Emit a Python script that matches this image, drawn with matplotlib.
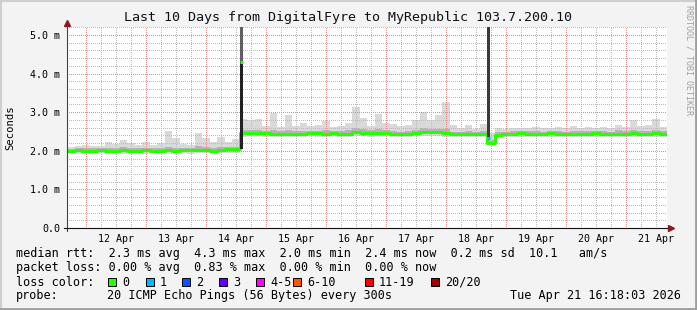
import numpy as np
import matplotlib
matplotlib.use('Agg')
import matplotlib.pyplot as plt
from matplotlib.patches import Rectangle
from matplotlib.lines import Line2D

plt.rcParams['font.family'] = 'DejaVu Sans Mono'

W, H = 697, 310

# time axis: days since 11 Apr 00:00, 3 hour buckets from 11 Apr 16:18
t_start = 16.3 / 24
step = 0.125

# median rtt per bucket (ms)
median = [2.00, 2.01, 2.00, 2.00, 2.01, 2.00, 2.00, 2.01, 2.00, 2.00,
          2.01, 2.00, 2.00, 2.01, 2.00, 2.02, 2.02, 2.03, 2.01, 2.00,
          2.01, 2.04, 2.04,
          2.45, 2.46, 2.47, 2.45, 2.44, 2.44, 2.43, 2.44, 2.44,
          2.45, 2.45, 2.44, 2.45, 2.44, 2.44,
          2.50, 2.47, 2.46, 2.46, 2.46,
          2.44, 2.43, 2.44, 2.46, 2.49,
          2.48, 2.48, 2.46, 2.43, 2.43, 2.43, 2.43, 2.43,
          2.21, 2.42,
          2.44, 2.44, 2.45, 2.44, 2.43, 2.44, 2.45, 2.44, 2.44, 2.43,
          2.44, 2.44, 2.45, 2.44, 2.43, 2.44, 2.44, 2.45, 2.44, 2.44,
          2.45, 2.44]

# smoke: min / max of the pings per bucket
smoke_lo = [1.94, 1.94, 1.93, 1.94, 1.94, 1.93, 1.94, 1.92, 1.94, 1.94,
            1.93, 1.94, 1.94, 1.93, 1.94, 1.94, 1.93, 1.94, 1.94, 1.93,
            1.94, 1.95, 1.95,
            2.37, 2.38, 2.38, 2.37, 2.37, 2.37, 2.36, 2.37, 2.37, 2.38,
            2.37, 2.37, 2.38, 2.37, 2.37, 2.38, 2.38, 2.37, 2.38, 2.38,
            2.37, 2.36, 2.37, 2.38, 2.39, 2.39, 2.38, 2.37, 2.36, 2.36,
            2.36, 2.36, 2.36,
            2.14, 2.35,
            2.36, 2.37, 2.37, 2.36, 2.36, 2.37, 2.37, 2.36, 2.37, 2.36,
            2.36, 2.37, 2.37, 2.36, 2.36, 2.37, 2.36, 2.37, 2.37, 2.36,
            2.37, 2.36]
smoke_hi = [2.10, 2.12, 2.15, 2.13, 2.12, 2.22, 2.18, 2.28, 2.19, 2.15,
            2.24, 2.16, 2.19, 2.51, 2.32, 2.17, 2.15, 2.45, 2.33, 2.22,
            2.37, 2.22, 2.30,
            2.82, 2.80, 2.82, 2.65, 2.98, 2.62, 2.92, 2.65, 2.71, 2.63,
            2.66, 2.78, 2.62, 2.65, 2.72, 3.14, 2.84, 2.65, 2.95, 2.72,
            2.70, 2.64, 2.66, 2.80, 3.00, 2.80, 2.93, 3.27, 2.67, 2.60,
            2.67, 2.56, 2.69,
            2.46, 2.58,
            2.56, 2.58, 2.60, 2.58, 2.62, 2.58, 2.60, 2.62, 2.58, 2.64,
            2.60, 2.62, 2.58, 2.62, 2.60, 2.67, 2.62, 2.80, 2.64, 2.68,
            2.82, 2.62]

# denser part of the smoke around the median
band_lo = [1.97, 1.97, 1.96, 1.97, 1.97, 1.96, 1.97, 1.97, 1.97, 1.96,
           1.97, 1.97, 1.97, 1.96, 1.97, 1.98, 1.98, 1.99, 1.97, 1.96,
           1.97, 2.00, 2.00,
           2.41, 2.42, 2.43, 2.41, 2.40, 2.40, 2.39, 2.40, 2.40, 2.41,
           2.41, 2.40, 2.41, 2.40, 2.40, 2.46, 2.43, 2.42, 2.42, 2.42,
           2.40, 2.39, 2.40, 2.42, 2.45, 2.44, 2.44, 2.42, 2.39, 2.39,
           2.39, 2.39, 2.39,
           2.17, 2.38,
           2.40, 2.40, 2.41, 2.40, 2.39, 2.40, 2.41, 2.40, 2.40, 2.39,
           2.40, 2.40, 2.41, 2.40, 2.39, 2.40, 2.40, 2.41, 2.40, 2.40,
           2.41, 2.40]
band_hi = [2.05, 2.06, 2.07, 2.06, 2.06, 2.08, 2.07, 2.09, 2.07, 2.06,
           2.08, 2.06, 2.07, 2.10, 2.08, 2.07, 2.07, 2.12, 2.09, 2.07,
           2.10, 2.10, 2.11,
           2.54, 2.54, 2.55, 2.52, 2.54, 2.51, 2.53, 2.51, 2.52, 2.52,
           2.52, 2.53, 2.51, 2.52, 2.53, 2.60, 2.56, 2.53, 2.56, 2.54,
           2.52, 2.50, 2.51, 2.55, 2.58, 2.56, 2.57, 2.56, 2.50, 2.50,
           2.51, 2.49, 2.51,
           2.28, 2.49,
           2.50, 2.51, 2.52, 2.51, 2.51, 2.50, 2.52, 2.52, 2.50, 2.52,
           2.51, 2.51, 2.52, 2.51, 2.50, 2.53, 2.51, 2.55, 2.52, 2.52,
           2.55, 2.51]

# the two short outages
spike_t = [3.592, 7.712]
spike_lo = [2.05, 2.36]
spike_hi = [6.0, 6.0]
spike_med = [4.3, 2.33]
spike_med_color = ['#26ff00', '#00b8ff']
spike_top_color = ['#606060', '#3a3a3a']

day_labels = ['12 Apr', '13 Apr', '14 Apr', '15 Apr', '16 Apr',
              '17 Apr', '18 Apr', '19 Apr', '20 Apr', '21 Apr']
y_labels = ['0.0', '1.0 m', '2.0 m', '3.0 m', '4.0 m', '5.0 m']

loss_labels = ['0', '1', '2', '3', '4-5', '6-10', '11-19', '20/20']
loss_colors = ['#26ff00', '#00b8ff', '#0059ff', '#5e00ff',
               '#ff00ff', '#ff5500', '#ff0000', '#a10000']
loss_x = [108, 146, 182, 219, 256, 293, 365, 431]


def px(x, y):
    return x / W, 1 - y / H


fig = plt.figure(figsize=(W / 100, H / 100), dpi=100, facecolor='#f3f3f3')

# frame
fig.add_artist(Line2D([0, 1], [1 - 1 / H, 1 - 1 / H], color='#cfcfcf', lw=1.5, transform=fig.transFigure))
fig.add_artist(Line2D([1 / W, 1 / W], [0, 1], color='#cfcfcf', lw=1.5, transform=fig.transFigure))
fig.add_artist(Line2D([0, 1], [1.2 / H, 1.2 / H], color='#9e9e9e', lw=2, transform=fig.transFigure))
fig.add_artist(Line2D([1 - 1.2 / W, 1 - 1.2 / W], [0, 1], color='#9e9e9e', lw=2, transform=fig.transFigure))

y0, y1 = 228, 228 - 5.2 * 38.6
ax = fig.add_axes([67 / W, 1 - y0 / H, 600 / W, (y0 - y1) / H])
ax.set_facecolor('white')
for s in ax.spines.values():
    s.set_visible(False)
ax.set_xlim(t_start, t_start + 10)
ax.set_ylim(0, 5.2)

# grid, 1px dots
gkw = dict(lw=0.72, ls=(0, (1, 2)), antialiased=False)
for v in np.arange(0.2, 5.21, 0.2):
    if abs(v - round(v)) > 1e-6:
        ax.axhline(v, color='#bcbcbc', zorder=1.5, **gkw)
for d in np.arange(1, 11, 0.25):
    if abs(d - round(d)) > 1e-6 and d < t_start + 10:
        ax.axvline(d, color='#bcbcbc', zorder=1.5, **gkw)
for v in range(1, 6):
    ax.axhline(v, color='#e88a8a', zorder=1.6, **gkw)
for d in range(1, 11):
    ax.axvline(d, color='#e88a8a', zorder=1.6, **gkw)

# smoke and median
edges = t_start + step * np.arange(len(median) + 1)


def stepped(v):
    return np.append(v, v[-1])


ax.fill_between(edges, stepped(smoke_lo), stepped(smoke_hi), step='post',
                color='#d9d9d9', lw=0, zorder=1)
ax.fill_between(edges, stepped(band_lo), stepped(band_hi), step='post',
                color='#b4b4b4', lw=0, zorder=1.1)
ax.step(edges, stepped(median), where='post', color='#26ff00', lw=2.2, zorder=3)

bw = 3 / 60
for t, lo, hi, md, mc, tc in zip(spike_t, spike_lo, spike_hi, spike_med,
                                 spike_med_color, spike_top_color):
    if md > lo:
        ax.bar(t, md - lo, bottom=lo, width=bw, color='#222222', zorder=4)
        ax.bar(t, hi - md, bottom=md, width=bw, color=tc, zorder=4)
    else:
        ax.bar(t, hi - lo, bottom=lo, width=bw, color=tc, zorder=4)
    ax.hlines(md, t - bw / 2, t + bw / 2, color=mc, lw=2.2, zorder=5)

# ticks
ax.set_xticks(np.arange(1, 11) + 0.5)
ax.set_xticklabels(day_labels, fontsize=7.2)
ax.set_yticks(range(6))
ax.set_yticklabels(y_labels, fontsize=7.2)
ax.tick_params(axis='x', length=0, pad=4)
ax.tick_params(axis='y', length=0, pad=5)

# axes with arrows
fig.add_artist(Line2D([67 / W, 67 / W], [1 - 231 / H, 1 - 24 / H], color='#444444', lw=0.8, transform=fig.transFigure))
fig.add_artist(Line2D([64 / W, 670 / W], [1 - 228 / H, 1 - 228 / H], color='#111111', lw=0.8, transform=fig.transFigure))
fig.add_artist(Line2D([67 / W], [1 - 23 / H], marker='^', ms=5, color='#8b1a1a', lw=0, transform=fig.transFigure))
fig.add_artist(Line2D([671 / W], [1 - 228 / H], marker='>', ms=5, color='#8b1a1a', lw=0, transform=fig.transFigure))

# titles
fig.text(*px(348, 18), 'Last 10 Days from DigitalFyre to MyRepublic 103.7.200.10',
         ha='center', va='center', fontsize=9.6, color='#111111')
fig.text(*px(10, 128), 'Seconds', rotation=90, ha='center', va='center', fontsize=7.6)
fig.text(*px(689, 5), 'RRDTOOL / TOBI OETIKER', rotation=270, ha='center', va='top',
         fontsize=6, color='#a0a0a0')

# legend
fs = 8.5
fig.text(*px(16, 254), 'median rtt:  2.3 ms avg  4.3 ms max  2.0 ms min  2.4 ms now  0.2 ms sd  10.1   am/s',
         va='center', fontsize=fs)
fig.text(*px(16, 268), 'packet loss: 0.00 % avg  0.83 % max  0.00 % min  0.00 % now',
         va='center', fontsize=fs)
fig.text(*px(16, 282), 'loss color:', va='center', fontsize=fs)
for lx, lab, c in zip(loss_x, loss_labels, loss_colors):
    fig.add_artist(Rectangle(px(lx, 286), 8 / W, 8 / H, facecolor=c, edgecolor='black',
                             lw=0.7, transform=fig.transFigure))
    fig.text(*px(lx + 14, 282), lab, va='center', fontsize=fs)
fig.text(*px(16, 296), 'probe:', va='center', fontsize=fs)
fig.text(*px(107, 296), '20 ICMP Echo Pings (56 Bytes) every 300s', va='center', fontsize=fs)
fig.text(*px(681, 296), 'Tue Apr 21 16:18:03 2026', ha='right', va='center', fontsize=fs)

fig.savefig('out.png', dpi=100, facecolor=fig.get_facecolor())
